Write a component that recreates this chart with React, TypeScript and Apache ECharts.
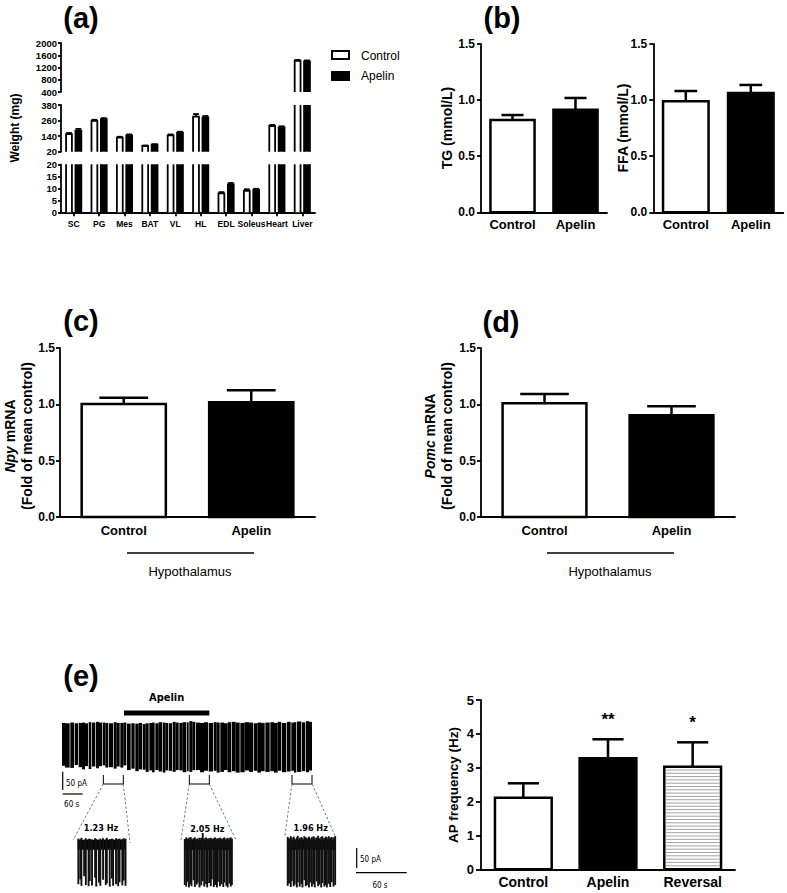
import React, { useEffect, useRef } from 'react';
import * as echarts from 'echarts';

// ---------- (a) tissue weights ----------
const tissues = ['SC', 'PG', 'Mes', 'BAT', 'VL', 'HL', 'EDL', 'Soleus', 'Heart', 'Liver'];
const weightControl = [156, 257, 128, 64, 146, 290, 7.9, 8.9, 218, 1420];
const weightControlSem = [8, 9, 7, 4, 7, 20, 0.5, 0.7, 8, 25];
const weightApelin = [182, 270, 146, 74, 166, 285, 11.6, 9.3, 208, 1400];
const weightApelinSem = [14, 9, 7, 4, 8, 10, 0.6, 0.5, 8, 30];
const weightAxisMin = [400, 20, 0];
const weightAxisMax = [2000, 380, 20];
const weightAxisStep = [400, 120, 5];

// ---------- (b) plasma lipids ----------
const groups2 = ['Control', 'Apelin'];
const tgMean = [0.823, 0.915];
const tgSem = [0.044, 0.104];
const ffaMean = [0.989, 1.063];
const ffaSem = [0.092, 0.072];

// ---------- (c), (d) hypothalamic mRNA ----------
const npyMean = [1.003, 1.018];
const npySem = [0.056, 0.106];
const pomcMean = [1.009, 0.902];
const pomcSem = [0.083, 0.08];
const fractionTicks = [0, 1.5, 0.5];

// ---------- (e) AP frequency ----------
const groups3 = ['Control', 'Apelin', 'Reversal'];
const apMean = [2.115, 3.28, 3.03];
const apSem = [0.425, 0.56, 0.72];
const apSig = ['', '**', '*'];

// ---------- (e) recordings ----------
// main trace: black stretches between visible gaps [start s, end s, upper pA, lower pA]
const mainTraceBlocks = [
  [0, 9, 3, -116], [9, 23, 2, -121], [25, 36, 4, -122], [38, 48, 2, -114],
  [50, 60, 3, -120], [60, 69, 4, -126], [69, 78, 2, -117], [80, 88, 5, -125],
  [90, 100, 4, -118], [102, 111, 6, -123], [111, 120, 4, -117], [122, 130, 4, -115],
  [130, 138, 3, -121], [140, 153, 2, -120], [155, 164, 5, -124], [164, 173, 3, -118],
  [175, 184, 3, -121], [184, 193, 4, -115], [195, 206, 1, -128], [208, 218, 2, -124],
  [220, 230, 1, -131], [230, 240, 3, -126], [242, 251, 0, -127], [251, 260, 2, -133],
  [262, 270, 3, -129], [270, 278, 4, -134], [280, 290, 2, -128], [290, 300, 5, -132],
  [302, 310, 4, -135], [310, 318, 3, -129], [320, 330, 2, -130], [332, 341, 6, -133],
  [341, 350, 4, -128], [352, 362, 3, -129], [362, 373, 5, -134], [375, 380, 5, -131],
  [382, 391, 8, -133], [391, 400, 6, -128], [402, 414, 4, -128], [414, 426, 3, -134],
  [426, 438, 5, -130], [440, 453, 3, -132], [455, 464, 5, -130], [464, 473, 4, -135],
  [475, 486, 4, -133], [486, 497, 2, -128], [497, 508, 5, -134], [510, 521, 6, -131],
  [521, 533, 4, -135], [535, 548, 3, -134], [548, 561, 5, -129], [561, 573, 4, -133],
  [575, 586, 2, -130], [586, 597, 4, -135], [597, 608, 3, -131], [610, 623, 4, -133],
  [625, 636, 5, -131], [636, 647, 3, -135], [647, 658, 6, -130], [660, 673, 3, -134],
  [675, 686, 6, -132], [688, 696, 4, -130], [696, 703, 5, -135], [705, 718, 7, -133],
  [720, 730, 5, -131], [732, 741, 8, -134], [741, 750, 6, -129],
];
const apelinWindow = [[186, 442]];
const insetWindows = [[124, 184], [382, 442], [690, 750]];
const insetRates = ['1.23 Hz', '2.05 Hz', '1.96 Hz'];
// inset spikes [time s, upper pA, lower pA]
const insetControl = [
  [0.8, 6, -108], [3.2, 4, -96], [4.6, 8, -112], [8.0, 3, -88], [10.1, 7, -110], [13.5, 5, -113],
  [15.0, 6, -100], [17.8, 4, -111], [21.6, 7, -92], [23.0, 5, -114], [26.4, 3, -104], [28.1, 6, -112],
  [31.5, 7, -97], [34.9, 4, -110], [36.2, 8, -106], [39.8, 5, -114], [42.5, 6, -94], [44.0, 4, -112],
  [47.6, 7, -108], [50.3, 5, -113], [52.0, 6, -103], [55.4, 5, -111], [57.2, 7, -99], [59.4, 6, -112],
];
const insetApelin = [
  [0.6, 5, -110], [2.4, 9, -114], [3.5, 6, -102], [5.8, 8, -116], [7.9, 10, -108], [9.0, 6, -113],
  [11.6, 7, -98], [13.2, 9, -115], [15.5, 5, -109], [16.7, 7, -104], [19.0, 8, -116], [21.2, 8, -111],
  [23.0, 20, -100], [24.9, 7, -114], [27.3, 9, -108], [28.6, 6, -116], [31.0, 7, -105], [33.1, 8, -113],
  [34.4, 6, -96], [36.9, 7, -115], [38.5, 9, -110], [40.8, 6, -116], [42.0, 7, -102], [44.6, 8, -113],
  [46.3, 6, -108], [48.7, 7, -115], [50.1, 9, -104], [52.6, 6, -112], [54.2, 8, -116], [56.5, 7, -106],
  [58.0, 9, -114], [59.5, 6, -110],
];
const insetReversal = [
  [0.5, 10, -112], [2.1, 7, -106], [4.3, 12, -115], [5.6, 8, -100], [7.9, 11, -113], [9.2, 6, -109],
  [11.8, 9, -116], [13.0, 13, -103], [15.4, 8, -114], [17.5, 10, -107], [18.8, 7, -116], [21.1, 12, -98],
  [22.9, 9, -113], [24.3, 8, -110], [26.8, 11, -116], [28.1, 7, -104], [30.5, 10, -114], [32.6, 12, -108],
  [34.0, 8, -116], [36.4, 9, -101], [38.2, 13, -113], [39.7, 7, -109], [42.0, 10, -116], [43.4, 12, -105],
  [45.9, 8, -114], [47.8, 11, -110], [49.1, 9, -116], [51.5, 12, -107], [53.2, 8, -115], [55.0, 10, -103],
  [57.3, 9, -114], [59.3, 12, -110],
];

const FONT = "'Liberation Sans', Arial, Helvetica, sans-serif";
const NARROW = "'Liberation Sans Narrow', 'DejaVu Sans Condensed', 'Liberation Sans', sans-serif";

const ln = (x1: number, y1: number, x2: number, y2: number, lw: number, color = '#000', dash?: number[]) => ({
  type: 'line',
  shape: { x1, y1, x2, y2 },
  style: { stroke: color, lineWidth: lw, lineDash: dash },
});

function valAxis(gridIndex: number, min: number, max: number, interval: number, fontSize: number, margin: number, fmt?: (v: number) => string, tickLen = 4) {
  return {
    type: 'value', gridIndex, min, max, interval,
    axisLine: { show: true, lineStyle: { color: '#000', width: 1.8 } },
    axisTick: { show: true, length: tickLen, lineStyle: { color: '#000', width: 1.8 } },
    splitLine: { show: false },
    axisLabel: { show: true, color: '#000', fontFamily: FONT, fontWeight: 'bold', fontSize, margin, formatter: fmt || ((v: number) => String(v)) },
  };
}
function catAxis(gridIndex: number, data: string[], fontSize: number, margin: number, showTick: boolean, show = true) {
  return {
    type: 'category', gridIndex, data, show,
    axisLine: { show: true, onZero: false, lineStyle: { color: '#000', width: 1.8 } },
    axisTick: { show: showTick, alignWithLabel: true, interval: 0, length: 4, lineStyle: { color: '#000', width: 1.8 } },
    axisLabel: { show: true, interval: 0, color: '#000', fontFamily: FONT, fontWeight: 'bold', fontSize, margin },
  };
}
function hiddenVal(gridIndex: number, min: number, max: number) {
  return { type: 'value', gridIndex, min, max, show: false, splitLine: { show: false } };
}

// (a) segmented bar renderer
const weightRender = (lo: number, hi: number, g: number) => (params: any, api: any) => {
  const i = api.value(0), v = api.value(1), e = api.value(2);
  if (v <= lo) return { type: 'group', children: [] };
  const band = api.size([1, 0])[0];
  const bw = band * 0.23, off = band * 0.185;
  const base = api.coord([i, lo]);
  const cx = base[0] + (g === 0 ? -off : off);
  const x0 = cx - bw / 2, x1 = cx + bw / 2;
  const yb = base[1];
  const capped = v <= hi;
  const yt = api.coord([i, Math.min(v, hi)])[1];
  const lw = 1.8;
  const ch: any[] = [];
  if (capped && e > 0) {
    const ye = api.coord([i, Math.min(v + e, hi)])[1];
    ch.push(ln(cx, yt, cx, ye, lw));
    if (v + e <= hi) ch.push(ln(cx - bw * 0.5, ye, cx + bw * 0.5, ye, lw));
  }
  ch.push({ type: 'rect', shape: { x: x0, y: yt, width: bw, height: yb - yt }, style: { fill: g === 0 ? '#fff' : '#000' } });
  if (capped) {
    ch.push({ type: 'polyline', shape: { points: [[x0, yb], [x0, yt], [x1, yt], [x1, yb]] }, style: { stroke: '#000', fill: null, lineWidth: lw } });
  } else {
    ch.push(ln(x0, yb, x0, yt, lw));
    ch.push(ln(x1, yb, x1, yt, lw));
  }
  return { type: 'group', children: ch };
};

// simple bar + SEM renderer
const barRender = (fills: string[], widthFrac: number, capFrac: number, lw: number, sig?: string[]) => (params: any, api: any) => {
  const i = api.value(0), v = api.value(1), e = api.value(2);
  const bw = api.size([1, 0])[0] * widthFrac;
  const base = api.coord([i, 0]);
  const top = api.coord([i, v]);
  const et = api.coord([i, v + e]);
  const cx = base[0], x0 = cx - bw / 2;
  const fill = fills[i];
  const ch: any[] = [];
  ch.push(ln(cx, top[1], cx, et[1], lw));
  ch.push(ln(cx - bw * capFrac / 2, et[1], cx + bw * capFrac / 2, et[1], lw));
  ch.push({ type: 'rect', shape: { x: x0, y: top[1], width: bw, height: base[1] - top[1] }, style: { fill: fill === 'black' ? '#000' : '#fff', stroke: '#000', lineWidth: lw } });
  if (fill === 'stripe') {
    for (let y = top[1] + 3.3; y < base[1] - 1.5; y += 3.3) {
      ch.push(ln(x0 + lw / 2, y, x0 + bw - lw / 2, y, 0.8, '#8a8a8a'));
    }
  }
  if (sig && sig[i]) {
    ch.push({ type: 'text', x: cx, y: et[1] - 19.5, style: { text: sig[i], fontFamily: FONT, fontWeight: 'bold', fontSize: 17, fill: '#000', align: 'center', verticalAlign: 'middle' } });
  }
  return { type: 'group', children: ch };
};

const blockRender = (params: any, api: any) => {
  const p0 = api.coord([api.value(0), api.value(2)]);
  const p1 = api.coord([api.value(1), api.value(3)]);
  return { type: 'rect', shape: { x: p0[0], y: p0[1], width: p1[0] - p0[0], height: p1[1] - p0[1] }, style: { fill: '#000' } };
};

const spikeRender = (params: any, api: any) => {
  const a = api.coord([api.value(0), api.value(1)]);
  const b = api.coord([api.value(0), api.value(2)]);
  const ch: any[] = [];
  if (params.dataIndex === 0) {
    const cs = params.coordSys;
    const yA = api.coord([0, 3])[1];
    const yB = api.coord([0, -22])[1];
    ch.push({ type: 'rect', shape: { x: cs.x, y: yA, width: cs.width, height: yB - yA }, style: { fill: '#000' } });
  }
  ch.push(ln(a[0], a[1], b[0], b[1], 1.9, '#111'));
  return { type: 'group', children: ch };
};

const apelinBarRender = (params: any, api: any) => {
  const p0 = api.coord([api.value(0), 0]);
  const p1 = api.coord([api.value(1), 0]);
  const cs = params.coordSys;
  const y = cs.y - 8;
  return {
    type: 'group',
    children: [
      { type: 'rect', shape: { x: p0[0], y, width: p1[0] - p0[0], height: 5 }, style: { fill: '#000' } },
      { type: 'text', x: (p0[0] + p1[0]) / 2, y: y - 13, style: { text: 'Apelin', fontFamily: NARROW, fontWeight: 'bold', fontSize: 11, fill: '#000', align: 'center', verticalAlign: 'middle' } },
    ],
  };
};

const bracketRender = (params: any, api: any) => {
  const x0 = api.coord([api.value(0), 0])[0];
  const x1 = api.coord([api.value(1), 0])[0];
  const cs = params.coordSys;
  const yb = cs.y + cs.height;
  return {
    type: 'polyline',
    shape: { points: [[x0, yb - 3], [x0, yb + 6], [x1, yb + 6], [x1, yb - 3]] },
    style: { stroke: '#000', fill: null, lineWidth: 1 },
  };
};

function buildOption() {
  const grid = [
    { left: 61, top: 43, width: 254, height: 49 },
    { left: 61, top: 105, width: 254, height: 46.7 },
    { left: 61, top: 164.3, width: 254, height: 48 },
    { left: 481, top: 44, width: 126, height: 168.3 },
    { left: 653.3, top: 44, width: 130, height: 168.3 },
    { left: 60, top: 348, width: 255, height: 169 },
    { left: 481, top: 348, width: 254, height: 169 },
    { left: 481, top: 700, width: 254, height: 169.3 },
    { left: 62, top: 718.6, width: 250, height: 59.4 },
    { left: 77.7, top: 837, width: 48.3, height: 54 },
    { left: 184.3, top: 837, width: 48, height: 54 },
    { left: 287.3, top: 837, width: 48.4, height: 54 },
  ];
  const f1 = (v: number) => v.toFixed(1);
  const xAxis: any[] = [
    catAxis(0, tissues, 8.5, 7, true, false),
    catAxis(1, tissues, 8.5, 7, true, false),
    catAxis(2, tissues, 8.5, 7, true),
    catAxis(3, groups2, 13, 6, false),
    catAxis(4, groups2, 13, 6, false),
    catAxis(5, groups2, 13, 7, false),
    catAxis(6, groups2, 13, 7, false),
    catAxis(7, groups3, 14, 6, false),
    hiddenVal(8, 0, 750),
    hiddenVal(9, 0, 60),
    hiddenVal(10, 0, 60),
    hiddenVal(11, 0, 60),
  ];
  const yAxis: any[] = [
    valAxis(0, weightAxisMin[0], weightAxisMax[0], weightAxisStep[0], 9.5, 4, undefined, 3),
    valAxis(1, weightAxisMin[1], weightAxisMax[1], weightAxisStep[1], 9.5, 4, undefined, 3),
    valAxis(2, weightAxisMin[2], weightAxisMax[2], weightAxisStep[2], 9.5, 4, undefined, 3),
    valAxis(3, fractionTicks[0], fractionTicks[1], fractionTicks[2], 12, 6, f1),
    valAxis(4, fractionTicks[0], fractionTicks[1], fractionTicks[2], 12, 6, f1),
    valAxis(5, fractionTicks[0], fractionTicks[1], fractionTicks[2], 12, 5, f1),
    valAxis(6, fractionTicks[0], fractionTicks[1], fractionTicks[2], 12, 5, f1),
    valAxis(7, 0, 5, 1, 13, 7, undefined, 5),
    hiddenVal(8, -150, 15),
    hiddenVal(9, -125, 10),
    hiddenVal(10, -125, 10),
    hiddenVal(11, -125, 10),
  ];

  const series: any[] = [];
  const wVals = [weightControl, weightApelin];
  const wSems = [weightControlSem, weightApelinSem];
  wVals.forEach((vals, g) => {
    [0, 1, 2].forEach((k) => {
      series.push({
        type: 'custom', name: groups2[g], xAxisIndex: k, yAxisIndex: k,
        renderItem: weightRender(weightAxisMin[k], weightAxisMax[k], g),
        data: vals.map((v, i) => [i, v, wSems[g][i]]),
      });
    });
  });
  const simple = (idx: number, means: number[], sems: number[], fills: string[], wf: number, cf: number, sig?: string[]) => ({
    type: 'custom', xAxisIndex: idx, yAxisIndex: idx,
    renderItem: barRender(fills, wf, cf, 2.5, sig),
    data: means.map((m, i) => [i, m, sems[i]]),
  });
  series.push(simple(3, tgMean, tgSem, ['white', 'black'], 0.7, 0.5));
  series.push(simple(4, ffaMean, ffaSem, ['white', 'black'], 0.7, 0.5));
  series.push(simple(5, npyMean, npySem, ['white', 'black'], 0.66, 0.58));
  series.push(simple(6, pomcMean, pomcSem, ['white', 'black'], 0.66, 0.58));
  series.push(simple(7, apMean, apSem, ['white', 'black', 'stripe'], 0.67, 0.55, apSig));

  series.push({ type: 'custom', xAxisIndex: 8, yAxisIndex: 8, renderItem: blockRender, data: mainTraceBlocks });
  series.push({ type: 'custom', xAxisIndex: 8, yAxisIndex: 8, renderItem: apelinBarRender, data: apelinWindow });
  series.push({ type: 'custom', xAxisIndex: 8, yAxisIndex: 8, renderItem: bracketRender, data: insetWindows });
  [insetControl, insetApelin, insetReversal].forEach((d, k) => {
    series.push({ type: 'custom', xAxisIndex: 9 + k, yAxisIndex: 9 + k, renderItem: spikeRender, data: d });
  });

  const txt = (x: number, y: number, text: string, fontSize: number, opts: any = {}) => ({
    type: 'text', x, y, rotation: opts.rotation || 0,
    style: {
      text, fontFamily: opts.family || FONT, fontWeight: opts.weight || 'bold', fontSize, fill: '#000',
      align: opts.align || 'center', verticalAlign: 'middle', rich: opts.rich,
    },
  });
  const R = Math.PI / 2;
  const richTitle = {
    i: { fontStyle: 'italic', fontWeight: 'bold', fontSize: 14, fontFamily: FONT, lineHeight: 17 },
    n: { fontWeight: 'bold', fontSize: 14, fontFamily: FONT, lineHeight: 17 },
  };
  const dash = [2.5, 2];
  const graphic: any[] = [
    txt(81, 18, '(a)', 29),
    txt(502, 18, '(b)', 29),
    txt(81, 321, '(c)', 29),
    txt(501, 322, '(d)', 29),
    txt(81, 676, '(e)', 29),
    txt(15, 128, 'Weight (mg)', 12, { rotation: R }),
    txt(447, 128, 'TG (mmol/L)', 14, { rotation: R }),
    txt(623, 128, 'FFA (mmol/L)', 14, { rotation: R }),
    txt(18.5, 436, '{i|Npy}{n| mRNA}\n{n|(Fold of mean control)}', 14, { rotation: R, rich: richTitle }),
    txt(438, 436, '{i|Pomc}{n| mRNA}\n{n|(Fold of mean control)}', 14, { rotation: R, rich: richTitle }),
    txt(453, 785, 'AP frequency (Hz)', 13.5, { rotation: R }),
    // legend (a)
    { type: 'rect', shape: { x: 332, y: 51, width: 17, height: 8 }, style: { fill: '#fff', stroke: '#000', lineWidth: 2 } },
    { type: 'rect', shape: { x: 331, y: 71, width: 19, height: 10 }, style: { fill: '#000' } },
    txt(361, 55.5, 'Control', 12, { weight: 'normal', align: 'left' }),
    txt(361, 76, 'Apelin', 12, { weight: 'normal', align: 'left' }),
    // Hypothalamus
    ln(127, 553, 254, 553, 1.3),
    txt(190, 571, 'Hypothalamus', 13, { weight: 'normal' }),
    ln(547, 553, 674, 553, 1.3),
    txt(610, 571, 'Hypothalamus', 13, { weight: 'normal' }),
    // scale bars (main trace)
    ln(62.7, 771.7, 62.7, 790, 1.2),
    txt(66, 783, '50 pA', 8, { weight: 'normal', align: 'left', family: NARROW }),
    ln(62.7, 794, 82.7, 794, 1.2),
    txt(71.7, 804, '60 s', 8, { weight: 'normal', family: NARROW }),
    // scale bars (insets)
    ln(356.7, 848, 356.7, 868, 1.2),
    txt(360, 859, '50 pA', 8, { weight: 'normal', align: 'left', family: NARROW }),
    ln(356, 872.7, 406.7, 872.7, 1.2),
    txt(380, 885, '60 s', 8, { weight: 'normal', family: NARROW }),
    // zoom connectors
    ln(103.3, 784, 73, 840, 0.8, '#555', dash),
    ln(123.3, 784, 130, 843, 0.8, '#555', dash),
    ln(189.3, 784, 181, 840, 0.8, '#555', dash),
    ln(209.3, 784, 236, 840, 0.8, '#555', dash),
    ln(292, 784, 284.7, 837, 0.8, '#555', dash),
    ln(312.3, 784, 336, 838, 0.8, '#555', dash),
    txt(101, 828, insetRates[0], 9, { family: NARROW }),
    txt(207.3, 829, insetRates[1], 9, { family: NARROW }),
    txt(310.7, 828, insetRates[2], 9, { family: NARROW }),
  ];

  return { animation: false, backgroundColor: '#fff', grid, xAxis, yAxis, series, graphic };
}

export default function App() {
  const ref = useRef<HTMLDivElement>(null);
  useEffect(() => {
    if (!ref.current) return;
    const chart = echarts.init(ref.current, null, { renderer: 'svg' });
    chart.setOption(buildOption() as any);
    return () => chart.dispose();
  }, []);
  return (
    <div
      ref={ref}
      style={{ position: 'absolute', left: 0, top: 0, width: 787, height: 893, background: '#fff' }}
    />
  );
}
